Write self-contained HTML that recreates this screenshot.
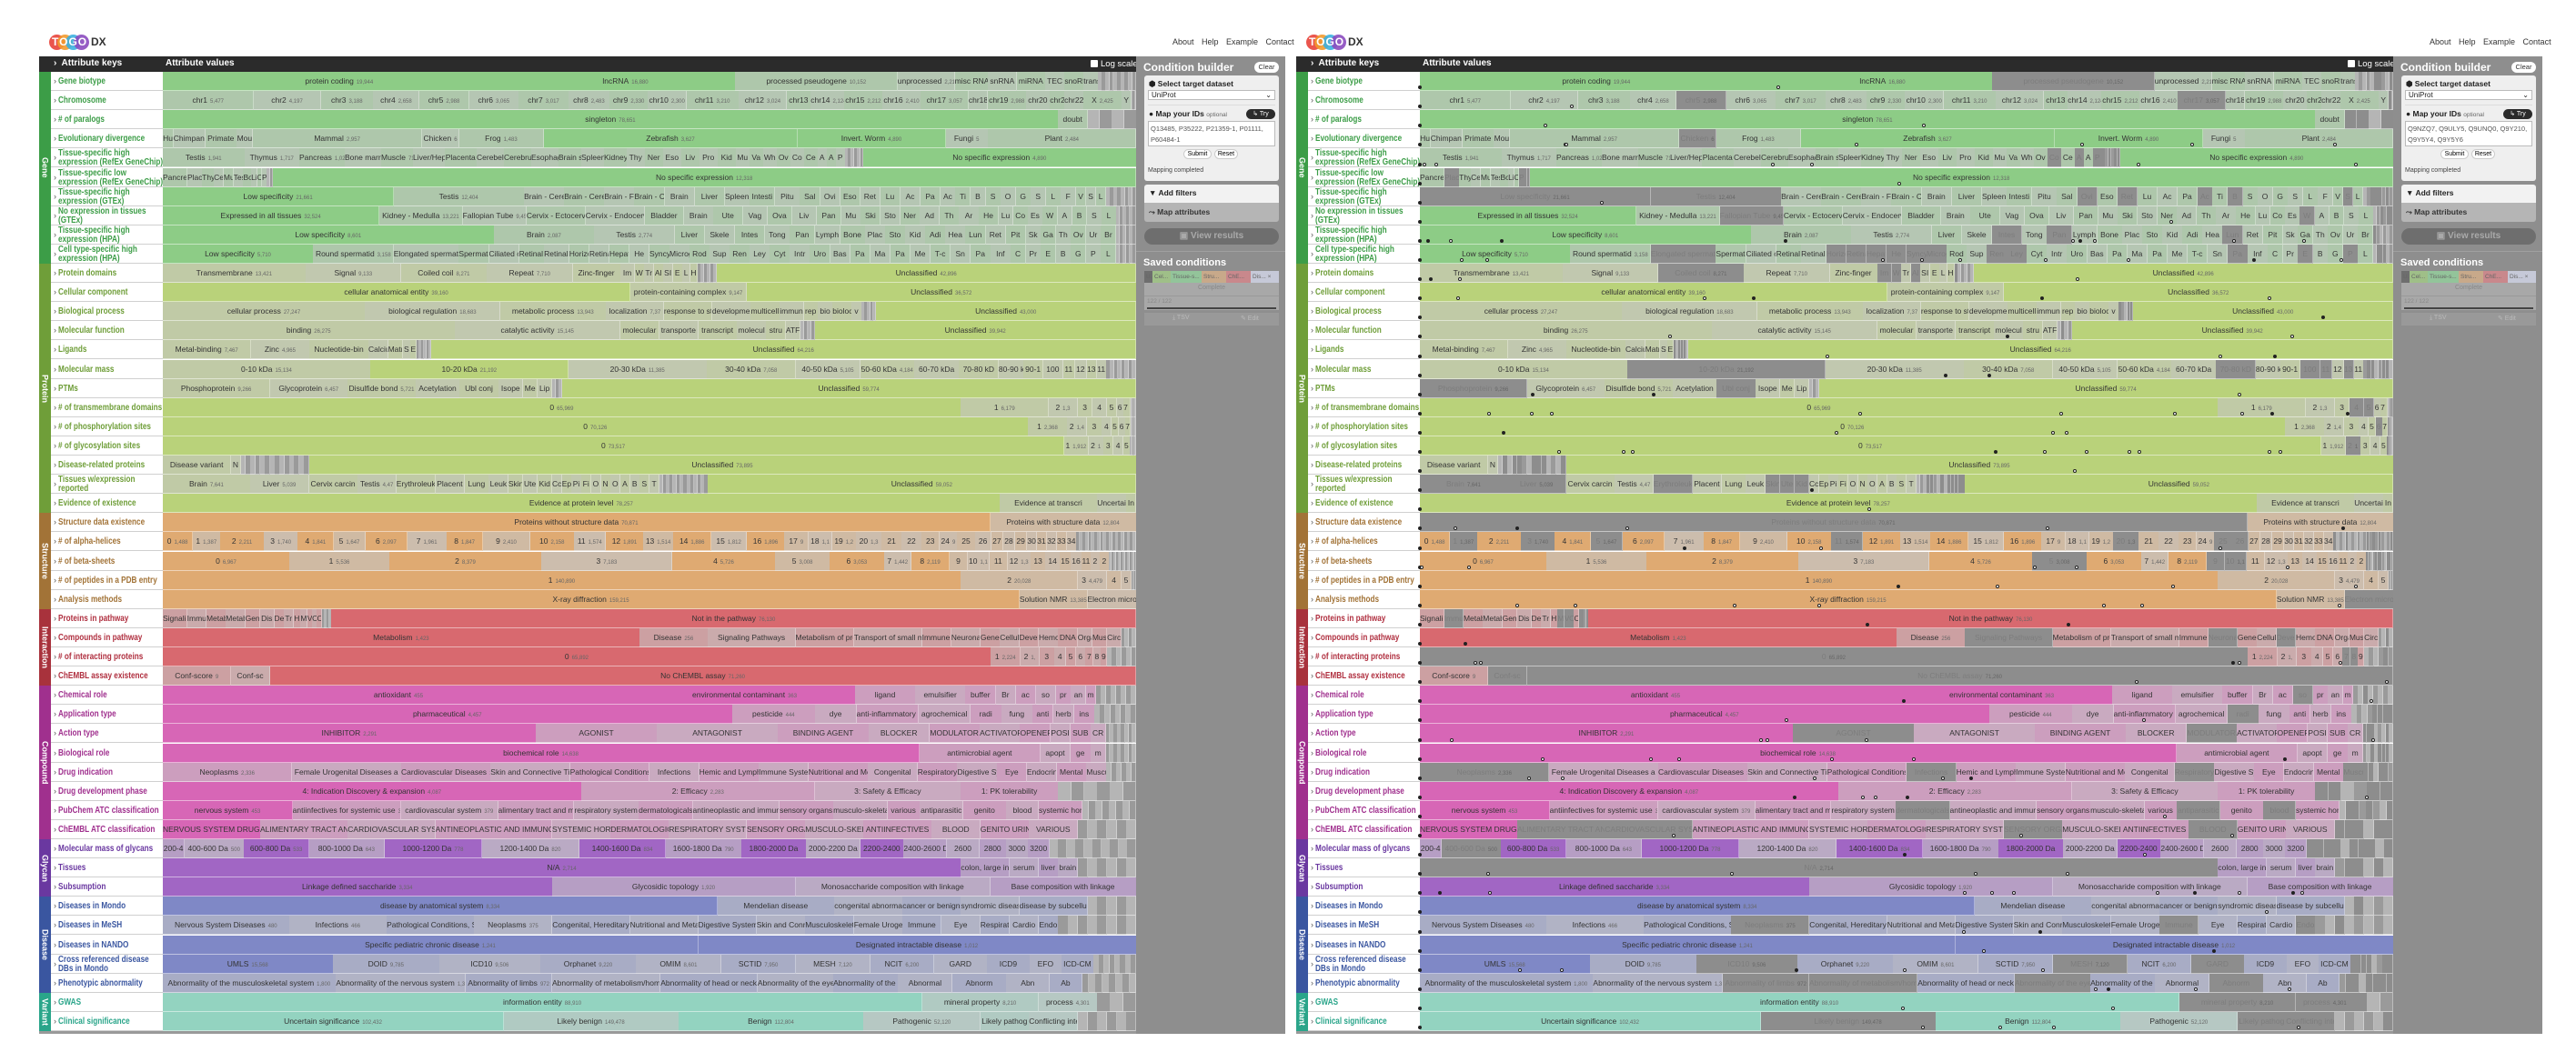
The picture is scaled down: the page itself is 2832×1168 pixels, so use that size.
<!DOCTYPE html>
<html><head><meta charset="utf-8">
<style>
*{box-sizing:border-box;margin:0;padding:0}
body{width:2832px;height:1168px;background:#fff;position:relative;overflow:hidden;font-family:"Liberation Sans Narrow","Liberation Sans",sans-serif}
.a{position:absolute}
.seg{position:absolute;overflow:hidden;white-space:nowrap;text-align:center;font-size:8.5px;color:#333;border-right:1px solid rgba(255,255,255,.35);border-bottom:1px solid rgba(255,255,255,.5)}
.seg small{font-size:6px;color:#666;margin-left:3px}
.key{position:absolute;background:#fff;border-bottom:1px solid #d0d0d0;font-weight:bold;font-size:10.5px;line-height:10px;display:flex;align-items:center;padding-left:3px;overflow:hidden}
.key span.c{font-weight:normal;color:#555;font-size:9px;margin-right:2px;flex:none}
.key .l{display:inline-block;white-space:nowrap;width:150px;flex:none;transform:scaleX(.78);transform-origin:left center}
.strip{position:absolute;color:#fff;font-weight:bold;font-size:9px;writing-mode:vertical-rl;text-align:center;display:flex;align-items:center;justify-content:center}
.pin{position:absolute;width:4px;height:4px;border-radius:50%;border:1px solid #222;background:#fff}
.pin.b{background:#222}
.cb{position:absolute;background:#8e8e8e}
.card{position:absolute;background:#efefef;border-radius:3px}
.t{position:absolute;white-space:nowrap}
</style></head><body>
<div id="root"></div>
<script>
const CATS={
g:{n:'Gene',s:'#3c9d47',k:'#3c9d47',b:'#8dcc86'},
p:{n:'Protein',s:'#6f9e39',k:'#6f9e39',b:'#b9d27a'},
s:{n:'Structure',s:'#a27337',k:'#a27337',b:'#dfaa72'},
i:{n:'Interaction',s:'#a8323c',k:'#b03040',b:'#d8696f'},
c:{n:'Compound',s:'#a0308e',k:'#a0308e',b:'#d766b6'},
y:{n:'Glycan',s:'#6a38a0',k:'#6a38a0',b:'#a166c4'},
d:{n:'Disease',s:'#3a56a0',k:'#3a56a0',b:'#7f88c6'},
v:{n:'Variant',s:'#2aa58a',k:'#2aa58a',b:'#93d3c0'}};
const R=[
['g','Gene biotype','*protein coding 19,944:37;*lncRNA 16,880:23;processed pseudogene 10,152:17;unprocessed 2,210:6;misc RNA:3.5;snRNA:3;miRNA:3;TEC:2;snoRNA:2;trans:1.5;~10:4'],
['g','Chromosome','chr1 5,477:9.5;chr2 4,197:7;chr3 3,188:5.5;chr4 2,658:4.8;chr5 2,988:5.2;chr6 3,065:5.2;chr7 3,017:5.2;chr8 2,483:4.3;chr9 2,330:4;chr10 2,300:4;chr11 3,210:5.5;chr12 3,024:5;chr13:2.5;chr14 2,124:3.5;chr15 2,212:4;chr16 2,410:4;chr17 3,057:5;chr18:2;chr19 2,988:4;chr20:2.5;chr2:1.5;chr22:2;X 2,425:4;Y:1;~3:0.5'],
['g','# of paralogs','*singleton 78,651:92;doubt:3;~4:5'],
['g','Evolutionary divergence','Hu:1;Chimpan:3;Primate:3;Mou:1.5;Mammal 2,957:16;Chicken 6:3.5;Frog 1,483:8;*Zebrafish 3,627:24;*Invert. Worm 4,890:14;Fungi 5:4;Plant 2,484:14'],
['g','Tissue-specific high<br>expression (RefEx GeneChip)','Testis 1,941:9;Thymus 1,717:6;Pancreas 1,027:5;Bone marrow:4;Muscle 71:3.5;Liver/Hep:3.5;Placenta:3.5;Cerebellum:3;Cerebrum:3;Esophag:3;Brain st:2.5;Spleen:2.5;Kidney:2.5;Thy:2;Ner:2;Eso:2;Liv:2;Pro:2;Kid:2;Mu:1.5;Va:1.5;Wh:1.5;Ov:1.5;Co:1.5;Ce:1.5;A:1;A:1;P:1;~6:2;*No specific expression 4,890:30'],
['g','Tissue-specific low<br>expression (RefEx GeneChip)','Pancreas:2.5;Place:1.5;Thy:1.2;Cer:1;Mu:1;Tes:1;Bo:0.8;Li:0.6;C:0.5;P:0.5;~2:0.6;*No specific expression 12,318:88'],
['g','Tissue-specific high<br>expression (GTEx)','*Low specificity 21,661:23;Testis 12,404:13;Brain - Cere:4;Brain - Cere:4;Brain - F:3;Brain - C:3;Brain:3;Liver:3;Spleen:2.5;Intesti:2.5;Pitu:2.5;Sal:2;Ovi:2;Eso:2;Ret:2;Lu:2;Ac:2;Pa:2;Ac:1.5;Ti:1.5;B:1.5;S:1.5;O:1.5;G:1.5;S:1.5;L:1.5;F:1.5;V:1;S:1;L:1;~8:3'],
['g','No expression in tissues<br>(GTEx)','*Expressed in all tissues 32,524:22;Kidney - Medulla 13,221:8.5;Fallopian Tube 9,451:6.5;Cervix - Ectocervix:6;Cervix - Endocervix:6;Bladder:4;Brain:3;Ute:3;Vag:2.5;Ova:2.5;Liv:2.5;Pan:2.5;Mu:2;Ski:2;Sto:2;Ner:2;Ad:2;Th:2;Ar:2;He:2;Lu:1.5;Co:1.5;Es:1.5;W:1.5;A:1.5;B:1.5;S:1.5;L:1.5;~6:2'],
['g','Tissue-specific high<br>expression (HPA)','*Low specificity 8,601:33;Brain 2,087:10;Testis 2,774:8;Liver:3;Skele:3;Intes:3;Tong:2.5;Pan:2.5;Lymph:2.5;Bone:2.5;Plac:2;Sto:2;Kid:2;Adi:2;Hea:2;Lun:2;Ret:2;Pit:2;Sk:1.5;Ga:1.5;Th:1.5;Ov:1.5;Ur:1.5;Br:1.5;~6:2'],
['g','Cell type-specific high<br>expression (HPA)','*Low specificity 5,710:15;Round spermatid 3,158:8;Elongated spermatid:6.5;Spermato:3;Ciliated c:3;Retinal c:2.5;Retinal l:2.5;Horizon:2;Retinal:2;Hepato:2;He:2;Syncy:2;Microglial:2;Rod:2;Sup:2;Ren:2;Ley:2;Cyt:2;Intr:2;Uro:2;Bas:2;Pa:2;Ma:2;Pa:2;Me:2;T-c:2;Sn:2;Pa:2;Inf:2;C:1.5;Pr:1.5;E:1.5;B:1.5;G:1.5;P:1.5;L:1.5;~6:2'],
['p','Protein domains','Transmembrane 13,421:15;Signal 9,133:10;Coiled coil 8,271:9;Repeat 7,710:9;Zinc-finger:5;Im:1.5;W:1;Tr:1;Al:1;SI:1;E:1;L:0.8;H:0.8;~6:2;*Unclassified 42,896:44'],
['p','Cellular component','*cellular anatomical entity 39,160:48;protein-containing complex 9,147:12;*Unclassified 36,572:40'],
['p','Biological process','cellular process 27,247:21;biological regulation 18,683:14;metabolic process 13,943:11;localization 7,37:6;response to stim:5;developmenta:4;multicell:3;immun:2.5;rep:1.5;bio:1.5;bioloc:2;v:1;~5:1.5;*Unclassified 43,000:27'],
['p','Molecular function','binding 26,275:30;catalytic activity 15,145:17;molecular:4;transporte:4;transcript:4;molecul:3;stru:2;ATF:1.5;~4:1.5;*Unclassified 39,942:33'],
['p','Ligands','Metal-binding 7,467:9;Zinc 4,965:6;Nucleotide-bin:6;Calcium:2;Matrix:1.5;S:0.8;E:0.6;~6:1.5;*Unclassified 64,216:72'],
['p','Molecular mass','0-10 kDa 15,134:21;*10-20 kDa 21,192:20;20-30 kDa 11,385:14;30-40 kDa 7,058:9;40-50 kDa 5,105:6.5;50-60 kDa 4,184:5.5;60-70 kDa:4.5;70-80 kD:4;80-90 k:2.5;90-1:2;100:2;11:1.2;12:1.2;13:1;11:1;~8:3'],
['p','PTMs','Phosphoprotein 9,266:11;Glycoprotein 6,457:8;Disulfide bond 5,721:7;Acetylation:4.5;Ubl conj:4;Isope:2.5;Me:1.5;Lip:1.5;~3:1;*Unclassified 59,774:59'],
['p','# of transmembrane domains','*0 65,969:82;1 6,179:9;2 1,3:3;3:1.5;4:1.5;5:1;6:0.7;7 1,:0.7;~3:0.6'],
['p','# of phosphorylation sites','*0 70,126:88;1 2,368:4;2 1,4:2;3:1.5;4:1;5:0.7;6:0.7;7:0.5;~3:0.6'],
['p','# of glycosylation sites','*0 73,517:91;1 1,912:2.5;2 1:1.5;3:1;4:1;5:0.7;~3:0.6'],
['p','Disease-related proteins','Disease variant:7;N:1;~14:7;*Unclassified 73,895:85'],
['p','Tissues w/expression<br>reported','Brain 7,641:9;Liver 5,039:6;Cervix carcin:5;Testis 4,47:4;Erythroleuk:4;Placent:3;Lung:2.5;Leuk:2;Skin:1.5;Ute:1.5;Kid:1.5;Cc:1;Ep:1;Pi:1;Fi:1;O:1;N:1;O:1;A:1;B:1;S:1;T:1;~14:5;*Unclassified 59,052:44'],
['p','Evidence of existence','*Evidence at protein level 78,257:86;Evidence at transcri:10;Uncertain:3;In:1'],
['s','Structure data existence','*Proteins without structure data 70,871:85;Proteins with structure data 12,804:15'],
['s','# of alpha-helices','*0 1,488:1.5;1 1,387:1.4;*2 2,211:2.2;3 1,740:1.7;*4 1,841:1.8;5 1,647:1.6;*6 2,097:2.1;7 1,961:2;*8 1,847:1.8;9 2,410:2.4;*10 2,158:2.2;11 1,574:1.6;*12 1,891:1.9;13 1,514:1.5;*14 1,886:1.9;15 1,812:1.8;*16 1,896:1.9;17 9:1.2;18 1,1:1.2;19 1,2:1.2;20 1,3:1.3;21:1;22:1;23:0.9;24 9:0.9;25:0.9;26:0.8;27:0.6;28:0.6;29:0.6;30:0.5;31:0.5;32:0.5;33:0.5;34:0.5;~20:3'],
['s','# of beta-sheets','*0 6,967:7;1 5,536:5.5;*2 8,379:8.4;3 7,183:7.2;*4 5,726:5.7;5 3,008:3;*6 3,053:3;7 1,442:1.5;*8 2,119:2.1;9:1;10 1,1:1.2;11:1;12 1,3:1.3;13:0.8;14:0.8;15:0.6;16:0.6;11:0.5;2:0.5;2:0.5;~12:1.5'],
['s','# of peptides in a PDB entry','*1 140,890:82;2 20,028:12;3 4,479:3;4:1.5;5:1;~3:0.5'],
['s','Analysis methods','*X-ray diffraction 159,215:88;Solution NMR 13,385:7;Electron micro:5'],
['i','Proteins in pathway','Signaling:2.5;Immun:2;Metab:2;Metab:2;Gen:1.5;Dis:1.5;Dev:1;Tr:1;H:0.7;M:0.7;V:0.5;C:0.5;C:0.5;~4:1;*Not in the pathway 76,130:83'],
['i','Compounds in pathway','*Metabolism 1,423:49;Disease 256:7;Signaling Pathways:9;Metabolism of protei:6;Transport of small mo:7;Immune Syste:3;Neuronal:3;Gene:2;Cellula:2;Devel:2;Hemo:2;DNA:2;Orga:1.5;Mus:1.5;Circ:1.5;~4:1.5'],
['i','# of interacting proteins','*0 65,892:85;1 2,224:3;2 1,:2;3:1.5;4:1.2;5:1;6:1;7:0.8;8:0.8;9:0.6;~6:3'],
['i','ChEMBL assay existence','Conf-score 9:7;Conf-sc:4;*No ChEMBL assay 71,260:89'],
['c','Chemical role','*antioxidant 455:47;*environmental contaminant 363:22;ligand:6;emulsifier:5;buffer:3;Br:2;ac:2;so:2;pr:1.5;an:1.5;m:1;~8:4'],
['c','Application type','*pharmaceutical 4,457:55;pesticide 444:8;dye:4;anti-inflammatory agent:6;agrochemical:5;radi:3;fung:3;anti:2;herb:2;ins:2;~8:4'],
['c','Action type','*INHIBITOR 2,291:37;AGONIST:12;ANTAGONIST:12;BINDING AGENT:9;BLOCKER:6;MODULATOR:5;ACTIVATOR:4;OPENER:3;POSI:2;SUB:2;CR:1.5;~8:3'],
['c','Biological role','*biochemical role 14,638:75;antimicrobial agent:12;apopt:3;ge:2;m:1.5;~8:3'],
['c','Drug indication','Neoplasms 2,336:13;Female Urogenital Diseases a:11;Cardiovascular Diseases 1,6:9;Skin and Connective Tissue:8;Pathological Conditions, Sig:8;Infections:5;Hemic and Lymphatic:6;Immune System:5;Nutritional and Metabolic:6;Congenital:5;Respiratory:4;Digestive System:4;Eye:3;Endocrine:3;Mental:3;Musculo:2;~6:3'],
['c','Drug development phase','*4: Indication Discovery & expansion 4,087:43;2: Efficacy 2,283:24;3: Safety & Efficacy:15;1: PK tolerability:10;~6:8'],
['c','PubChem ATC classification','*nervous system 453:12;antiinfectives for systemic use 391:10;cardiovascular system 379:9;alimentary tract and metabolism:7;respiratory system:6;dermatologicals:5;antineoplastic and immunomodulating:8;sensory organs:5;musculo-skeletal:5;various:3;antiparasitic:4;genito:4;blood:3;systemic hormonal:4;~8:5'],
['c','ChEMBL ATC classification','*NERVOUS SYSTEM DRUGS 577:10;ALIMENTARY TRACT AND METABOLISM:9;CARDIOVASCULAR SYSTEM DRUG:9;ANTINEOPLASTIC AND IMMUNOMODULATING AGENTS:12;SYSTEMIC HORMONAL:6;DERMATOLOGICALS:6;RESPIRATORY SYSTEM DRUGS:8;SENSORY ORGANS:6;MUSCULO-SKELETAL:6;ANTIINFECTIVES:7;BLOOD:5;GENITO URINARY:5;VARIOUS:5;~6:6'],
['y','Molecular mass of glycans','200-4:2;400-600 Da 500:5.5;*600-800 Da 533:6;800-1000 Da 643:7;*1000-1200 Da 778:9;1200-1400 Da 820:9;*1400-1600 Da 834:8;1600-1800 Da 790:7;*1800-2000 Da:6;2000-2200 Da:5;*2200-2400:4;2400-2600 Da:4;2600:3;2800:2.5;3000:2;3200:2;~10:8'],
['y','Tissues','*N/A 2,714:82;colon, large intestine:5;serum:3;liver:2;brain:2;~6:6'],
['y','Subsumption','*Linkage defined saccharide 3,334:40;Glycosidic topology 1,920:25;Monosaccharide composition with linkage:20;Base composition with linkage:15'],
['d','Diseases in Mondo','*disease by anatomical system 8,334:57;Mendelian disease:12;congenital abnormality:7;cancer or benign tumor:6;syndromic disease:6;disease by subcellular:7;~5:5'],
['d','Diseases in MeSH','Nervous System Diseases 480:13;Infections 466:10;Pathological Conditions, Signs:9;Neoplasms 375:8;Congenital, Hereditary:8;Nutritional and Metabolic:7;Digestive System:6;Skin and Connective:5;Musculoskeletal:5;Female Urogenital:5;Immune:4;Eye:4;Respiratory:3;Cardio:3;Endo:2;~8:8'],
['d','Diseases in NANDO','*Specific pediatric chronic disease 1,241:55;*Designated intractable disease 1,012:45'],
['d','Cross referenced disease<br>DBs in Mondo','*UMLS 15,568:16;DOID 9,785:10;ICD10 9,506:9.5;Orphanet 9,220:9;OMIM 8,601:8;SCTID 7,950:7;MESH 7,120:7;NCIT 6,200:6;GARD:5;ICD9:4;EFO:3;ICD-CM:3;~8:4'],
['d','Phenotypic abnormality','Abnormality of the musculoskeletal system 1,800:16;Abnormality of the nervous system 1,3:12;Abnormality of limbs 972:8;Abnormality of metabolism/homeostasis:10;Abnormality of head or neck:9;Abnormality of the eye:7;Abnormality of the genitourinary:6;Abnormal:5;Abnorm:5;Abn:4;Ab:3;~8:5'],
['v','GWAS','*information entity 88,910:78;mineral property 8,210:12;process 4,301:6;~3:4'],
['v','Clinical significance','*Uncertain significance 102,432:35;Likely benign 149,478:18;*Benign 112,804:19;Pathogenic 52,120:12;Likely pathog:5;Conflicting inte:5;~6:6']];
function hx(c){return [1,3,5].map(i=>parseInt(c.substr(i,2),16))}
function mix(a,b,t){const x=hx(a),y=hx(b);return 'rgb('+x.map((v,i)=>Math.round(v*(1-t)+y[i]*t)).join(',')+')'}
let seed=7;function rnd(){seed=(seed*16807)%2147483647;return seed/2147483647}
const root=document.getElementById('root');
function el(tag,cls,css,html){const e=document.createElement(tag);if(cls)e.className=cls;if(css)e.style.cssText=css;if(html!=null)e.innerHTML=html;root.appendChild(e);return e}
const GRAYROWS={6:1,15:1,23:1,30:1,31:1,41:1,47:1};
function panel(X,right){
 const strip=X, keys=X+13, vx=X+136, vw=1070, top=79, rh=(1134-79)/50;
 el('div','a',`left:${strip}px;top:62px;width:${vx+vw-strip}px;height:17px;background:#2b2b2b`);
 el('div','t',`left:${keys+3}px;top:64px;color:#fff;font-weight:bold;font-size:10px`,'›&nbsp; Attribute keys');
 el('div','t',`left:${vx+3}px;top:64px;color:#fff;font-weight:bold;font-size:10px`,'Attribute values');
 el('div','a',`left:${vx+vw-50}px;top:66px;width:8px;height:8px;background:#fff;border-radius:1px`);
 el('div','t',`left:${vx+vw-39}px;top:65px;color:#fff;font-size:9.5px`,'Log scale');
 const order=[];R.forEach((r,i)=>{if(!order.length||order[order.length-1].c!==r[0])order.push({c:r[0],s:i,e:i});else order[order.length-1].e=i});
 order.forEach(o=>{const C=CATS[o.c];el('div','strip',`left:${strip}px;top:${top+o.s*rh}px;width:13px;height:${(o.e-o.s+1)*rh}px;background:${C.s}`,C.n)});
 R.forEach((r,i)=>{
  const C=CATS[r[0]];const y=top+i*rh;
  el('div','key',`left:${keys}px;top:${y}px;width:123px;height:${rh}px;color:${C.k}`,'<span class="c">›</span><span class="l">'+r[1]+'</span>');
  const parts=r[2].split(';').map(s=>s.trim());let segs=[];
  parts.forEach(p=>{const k=p.lastIndexOf(':');let lab=p.slice(0,k),w=parseFloat(p.slice(k+1));
   if(lab[0]=='~'){const n=parseInt(lab.slice(1));for(let j=0;j<n;j++)segs.push({t:'',w:w/n,tail:1});return}
   let main=false;if(lab[0]=='*'){main=true;lab=lab.slice(1)}
   const toks=lab.split(' ');let cnt='';if(toks.length>1&&/^[\d,]+$/.test(toks[toks.length-1])&&/\d/.test(toks[toks.length-1])){cnt=toks.pop();lab=toks.join(' ')}
   segs.push({t:lab,c:cnt,w:w,main:main})});
  const tot=segs.reduce((a,s)=>a+s.w,0);let cx=0;let alt=0;
  segs.forEach((s,j)=>{const w=s.w/tot*vw;let bg,col='#333';
   if(s.tail)bg=j%2?'#9a9a9a':'#b5b5b5';
   else if(s.main)bg=C.b;
   else{bg=mix(C.b,'#c4c4c4',alt%2?0.72:0.6);alt++}
   let g=false;
   if(right){ if(GRAYROWS[i]&&s.main)g=true; else if(!s.main&&!s.tail&&rnd()<0.2)g=true; else if(s.tail&&rnd()<0.5)g=true;}
   if(g){bg='#8d8d8d';col='#7d7d7d'}
   el('div','seg',`left:${vx+cx}px;top:${y}px;width:${w+0.5}px;height:${rh}px;line-height:${rh}px;background:${bg};color:${col}`,s.t?(s.t+(s.c?'<small>'+s.c+'</small>':'')):'');
   cx+=w});
 });
 if(right){
  for(let i=0;i<50;i++){const y=top+i*rh+rh-6;
   el('div','pin b',`left:${vx-2}px;top:${y}px`);
   const n=Math.floor(rnd()*rnd()*12)+1;
   for(let j=0;j<n;j++){const x=vx+rnd()*vw;el('div','pin'+(rnd()<0.25?' b':''),`left:${x}px;top:${y}px`)}}
 }
 el('div','a',`left:${strip}px;top:1134px;width:${vx+vw-strip}px;height:3px;background:#999`);
 const B=vx+vw;
 el('div','cb',`left:${B}px;top:62px;width:164px;height:1075px`);
 el('div','t',`left:${B+8}px;top:67px;color:#fff;font-weight:bold;font-size:12px`,'Condition builder');
 el('div','t',`left:${B+130}px;top:68px;width:27px;height:12px;background:#fff;border-radius:6px;font-size:7.5px;text-align:center;line-height:12px;color:#333`,'Clear');
 el('div','card',`left:${B+9}px;top:83px;width:148px;height:116px`);
 el('div','t',`left:${B+14}px;top:87px;font-size:8.5px;font-weight:bold;color:#222`,'⬢ Select target dataset');
 el('div','t',`left:${B+13}px;top:99px;width:140px;height:11px;background:#fff;border:1px solid #bbb;font-size:8px;padding-left:3px;line-height:9px;color:#222`,'UniProt<span style="float:right;margin-right:3px">⌄</span>');
 el('div','a',`left:${B+13}px;top:115px;width:140px;height:1px;background:#ddd`);
 el('div','t',`left:${B+14}px;top:120px;font-size:8.5px;font-weight:bold;color:#222`,'● Map your IDs <span style="font-weight:normal;font-size:6.5px;color:#666">optional</span>');
 el('div','t',`left:${B+121}px;top:120px;width:32px;height:11px;background:#2b2b2b;border-radius:6px;color:#fff;font-size:7px;text-align:center;line-height:11px`,'↳ Try');
 el('div','t',`left:${B+13}px;top:133px;width:140px;height:28px;background:#fff;border:1px solid #bbb;font-size:7.5px;color:#555;padding:2px;white-space:normal;line-height:12px`,right?'Q9NZQ7, Q9ULY5, Q9UNQ0, Q9Y210, Q9Y5Y4, Q9Y5Y6':'Q13485, P35222, P21359-1, P01111, P60484-1');
 el('div','t',`left:${B+52}px;top:164px;width:31px;height:11px;background:#fff;border:1px solid #ccc;border-radius:6px;font-size:7px;text-align:center;line-height:9px`,'Submit');
 el('div','t',`left:${B+86}px;top:164px;width:26px;height:11px;background:#fff;border:1px solid #ccc;border-radius:6px;font-size:7px;text-align:center;line-height:9px`,'Reset');
 el('div','t',`left:${B+13}px;top:184px;font-size:7px;color:#444`,'Mapping completed');
 el('div','a',`left:${B+9}px;top:203px;width:148px;height:20px;background:#f2f2f2;border-radius:3px 3px 0 0`);
 el('div','t',`left:${B+14}px;top:207px;font-size:8.5px;font-weight:bold;color:#222`,'▼ Add filters');
 el('div','a',`left:${B+9}px;top:223px;width:148px;height:21px;background:#b5b5b5;border-radius:0 0 3px 3px`);
 el('div','t',`left:${B+14}px;top:228px;font-size:8.5px;font-weight:bold;color:#333`,'⤳ Map attributes');
 el('div','t',`left:${B+9}px;top:251px;width:148px;height:18px;background:#6e6e6e;border-radius:9px;color:#aaa;font-size:10px;font-weight:bold;text-align:center;line-height:18px`,'▣ View results');
 el('div','a',`left:${B}px;top:276px;width:164px;height:1px;background:#a0a0a0`);
 el('div','t',`left:${B+8}px;top:283px;color:#fff;font-weight:bold;font-size:11px`,'Saved conditions');
 el('div','a',`left:${B+9}px;top:298px;width:148px;height:13px;background:#c9c9c9`);
 const chips=[['U.','#6e6e6e',9],['Cel...','#9fbf88',20],['Tissue-s...','#93c49a',34],['Stru...','#c8a98a',27],['ChE...','#c9888c',27],['Dis... ×','#c6c9d8',31]];
 let cx2=B+9;chips.forEach(c=>{el('div','t',`left:${cx2}px;top:298px;width:${c[2]}px;height:13px;background:${c[1]};font-size:6.5px;color:#666;line-height:13px;padding-left:2px;overflow:hidden`,c[0]);cx2+=c[2]});
 el('div','a',`left:${B+9}px;top:311px;width:148px;height:30px;background:#a8a8a8`);
 el('div','t',`left:${B+9}px;top:313px;width:148px;text-align:center;font-size:7px;color:#888`,'Complete');
 el('div','a',`left:${B+9}px;top:325px;width:148px;height:1px;background:#999`);
 el('div','t',`left:${B+12}px;top:328px;font-size:6.5px;color:#888`,'122 / 122');
 el('div','a',`left:${B+12}px;top:338px;width:142px;height:2px;background:#444`);
 el('div','a',`left:${B+9}px;top:344px;width:148px;height:14px;background:#999`);
 el('div','t',`left:${B+40}px;top:346px;font-size:7px;color:#bbb`,'⤓ TSV');
 el('div','t',`left:${B+115}px;top:346px;font-size:7px;color:#bbb`,'✎ Edit');
 const L=X+11;
 [['#e8433a',0],['#f29a2e',9],['#3cb0e0',18],['#8b4bbf',27]].forEach(c=>el('div','a',`left:${L+c[1]}px;top:38px;width:17px;height:17px;border-radius:50%;background:${c[0]};opacity:.9`));
 el('div','t',`left:${L+3}px;top:39px;color:#fff;font-weight:bold;font-size:12px;letter-spacing:1px`,'TOGO');
 el('div','t',`left:${L+46}px;top:39px;color:#333;font-weight:bold;font-size:12px`,'DX');
 el('div','t',`left:${B+40}px;top:41px;font-size:9px;color:#333;word-spacing:6px`,'About Help Example Contact');
}
panel(43,false);
panel(1425,true);
</script>
</body></html>
